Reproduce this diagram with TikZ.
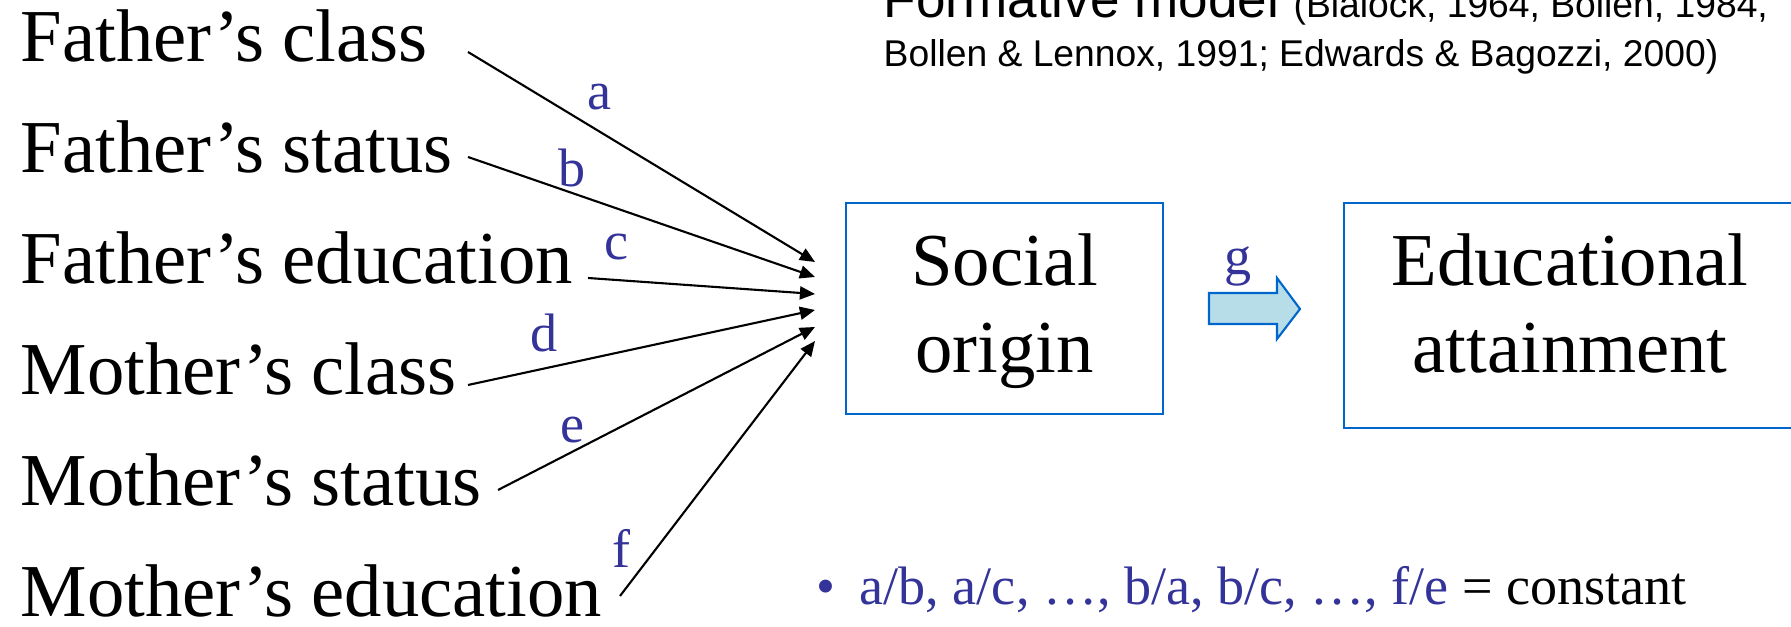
\documentclass[tikz,border=0pt]{standalone}
\usepackage{fontspec}
\setmainfont{Liberation Serif}
\newfontfamily\arialfont{Liberation Sans}
\usetikzlibrary{arrows.meta}
\definecolor{labelblue}{RGB}{51,51,153}
\definecolor{boxblue}{RGB}{0,102,204}
\definecolor{arrowfill}{RGB}{183,222,232}

\begin{document}
\begin{tikzpicture}[x=0.1mm,y=-0.1mm,
  item/.style={anchor=base west, inner sep=0pt, font=\fontsize{21.25}{25}\selectfont},
  coef/.style={inner sep=0pt, text=labelblue, font=\fontsize{15.4}{18}\selectfont},
  link/.style={draw, line width=0.6pt, -{Triangle[length=4.3pt,width=3.7pt]}},
  constructbox/.style={draw=boxblue, line width=0.6pt, inner sep=0pt},
  boxtext/.style={anchor=base, inner sep=0pt, font=\fontsize{21.25}{25}\selectfont},
  blockarrow/.style={draw=boxblue, fill=arrowfill, line width=0.6pt, line join=miter},
  cite/.style={anchor=base west, inner sep=0pt, font=\arialfont},
]
\useasboundingbox (0,0) rectangle (1791,627);
\clip (0,0) rectangle (1791,627);

% indicators
\node[item] (fcl) at (20,62)  {Father’s class};
\node[item] (fst) at (20,173) {Father’s status};
\node[item] (fed) at (20,284) {Father’s education};
\node[item] (mcl) at (20,395) {Mother’s class};
\node[item] (mst) at (20,506) {Mother’s status};
\node[item] (med) at (20,617) {Mother’s education};

% start and end points of the paths
\coordinate (fcl-out) at (468,52);
\coordinate (fst-out) at (468,157);
\coordinate (fed-out) at (588,278);
\coordinate (mcl-out) at (468,385);
\coordinate (mst-out) at (498,490);
\coordinate (med-out) at (620,596);
\coordinate (in-a) at (815,262);
\coordinate (in-b) at (815,277);
\coordinate (in-c) at (815,294);
\coordinate (in-d) at (815,310);
\coordinate (in-e) at (815,327);
\coordinate (in-f) at (815,341);

\draw[link] (fcl-out) -- (in-a);
\draw[link] (fst-out) -- (in-b);
\draw[link] (fed-out) -- (in-c);
\draw[link] (mcl-out) -- (in-d);
\draw[link] (mst-out) -- (in-e);
\draw[link] (med-out) -- (in-f);

% path coefficients
\node[coef] (la) at (600,97)  {a};
\node[coef] (lb) at (572,168) {b};
\node[coef] (lc) at (617,247) {c};
\node[coef] (ld) at (544,333) {d};
\node[coef] (le) at (573,430) {e};
\node[coef] (lf) at (622,548) {f};
\node[coef] (lg) at (1238,266) {g};

% constructs
\node[constructbox, minimum width=31.7mm, minimum height=21.1mm] (so) at (1004.5,308.5) {};
\node[boxtext] (so1) at (1004.5,286) {Social};
\node[boxtext] (so2) at (1004.5,373) {origin};

\node[constructbox, minimum width=45.2mm, minimum height=22.5mm] (ea) at (1570,315.5) {};
\node[boxtext] (ea1) at (1570,286) {Educational};
\node[boxtext] (ea2) at (1570,373) {attainment};

% block arrow between the constructs
\draw[blockarrow] (1209,293) -- (1277,293) -- (1277,278) -- (1300,309)
  -- (1277,339) -- (1277,324) -- (1209,324) -- cycle;

% heading with references
\node[cite] (head) at (883,18) {\fontsize{15.1}{18}\selectfont Formative model
  {\fontsize{10.6}{13}\selectfont(Blalock, 1964, Bollen, 1984,}};
\node[cite] (head2) at (883,67) {\fontsize{10.6}{13}\selectfont Bollen \& Lennox, 1991; Edwards \& Bagozzi, 2000)};

% constraint
\node[coef, anchor=base west] (bul) at (816,605) {•};
\node[anchor=base west, inner sep=0pt, font=\fontsize{15.4}{18}\selectfont] (rule) at (859,605)
  {\textcolor{labelblue}{a/b, a/c, …, b/a, b/c, …, f/e} = constant};
\end{tikzpicture}
\end{document}
